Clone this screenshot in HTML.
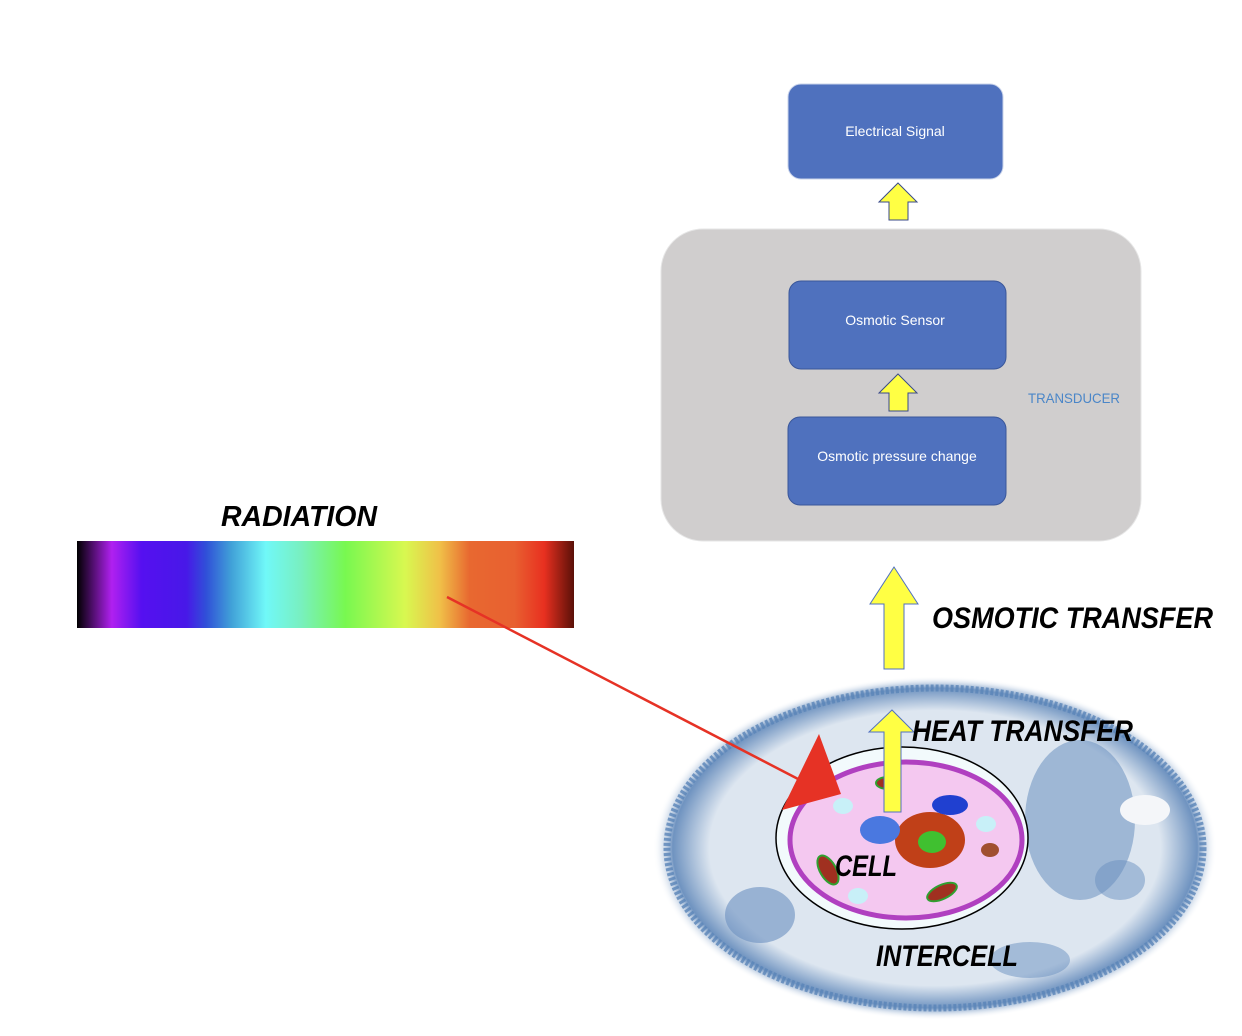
<!DOCTYPE html>
<html><head><meta charset="utf-8"><style>html,body{margin:0;padding:0;background:#fff}svg{display:block}</style></head>
<body>
<svg width="1242" height="1036" viewBox="0 0 1242 1036" xmlns="http://www.w3.org/2000/svg" font-family="Liberation Sans, sans-serif">
<defs>
<linearGradient id="sp" x1="0" x2="1" y1="0" y2="0">
<stop offset="0" stop-color="#000"/>
<stop offset="0.07" stop-color="#b020f0"/>
<stop offset="0.13" stop-color="#5510f0"/>
<stop offset="0.22" stop-color="#4818e8"/>
<stop offset="0.26" stop-color="#3050d8"/>
<stop offset="0.31" stop-color="#40a0d8"/>
<stop offset="0.38" stop-color="#70f8f8"/>
<stop offset="0.45" stop-color="#78f0c0"/>
<stop offset="0.54" stop-color="#78f850"/>
<stop offset="0.66" stop-color="#d8f850"/>
<stop offset="0.73" stop-color="#f0c048"/>
<stop offset="0.79" stop-color="#e86830"/>
<stop offset="0.88" stop-color="#e86030"/>
<stop offset="0.94" stop-color="#e83020"/>
<stop offset="1" stop-color="#5a1008"/>
</linearGradient>
<radialGradient id="bg" cx="0.5" cy="0.5" r="0.5">
<stop offset="0.8" stop-color="#dde6f0"/>
<stop offset="0.93" stop-color="#6f93c0"/>
<stop offset="1" stop-color="#ffffff" stop-opacity="0"/>
</radialGradient>
</defs>

<rect x="661" y="229" width="480" height="312" rx="42" fill="#d0cece" stroke="#e6e6e6"/>
<rect x="788" y="84" width="215" height="95" rx="13" fill="#4f71be" stroke="#c9d3ea"/>
<text x="895" y="136" font-size="14" fill="#fff" text-anchor="middle">Electrical Signal</text>
<rect x="789" y="281" width="217" height="88" rx="12" fill="#4f71be" stroke="#3a579a"/>
<text x="895" y="325" font-size="14" fill="#fff" text-anchor="middle">Osmotic Sensor</text>
<rect x="788" y="417" width="218" height="88" rx="12" fill="#4f71be" stroke="#3a579a"/>
<text x="897" y="461" font-size="14" fill="#fff" text-anchor="middle">Osmotic pressure change</text>
<text x="1028" y="403" font-size="14" fill="#4a86c8" textLength="92" lengthAdjust="spacingAndGlyphs">TRANSDUCER</text>
<polygon points="898,183 917,202 908,202 908,220 889,220 889,202 879,202" fill="#ffff44" stroke="#3a4a8a"/>
<polygon points="898,374 917,393 908,393 908,411 889,411 889,393 879,393" fill="#ffff44" stroke="#3a4a8a"/>
<polygon points="894,567 918,604 904,604 904,669 884,669 884,604 870,604" fill="#ffff44" stroke="#5070c0"/>

<rect x="77" y="541" width="497" height="87" fill="url(#sp)"/>
<text x="221" y="526" font-size="29" font-weight="bold" font-style="italic" textLength="156" lengthAdjust="spacingAndGlyphs">RADIATION</text>

<ellipse cx="935" cy="848" rx="282" ry="172" fill="url(#bg)"/>
<ellipse cx="935" cy="848" rx="268" ry="160" fill="none" stroke="#5a84b8" stroke-width="7" stroke-dasharray="3 2" opacity="0.8"/>
<ellipse cx="1080" cy="820" rx="55" ry="80" fill="#6a90c0" opacity="0.55"/>
<ellipse cx="760" cy="915" rx="35" ry="28" fill="#6a90c0" opacity="0.6"/>
<ellipse cx="1120" cy="880" rx="25" ry="20" fill="#6a90c0" opacity="0.5"/>
<ellipse cx="1030" cy="960" rx="40" ry="18" fill="#6a90c0" opacity="0.5"/>
<ellipse cx="1145" cy="810" rx="25" ry="15" fill="#f4f6f9"/>
<ellipse cx="902" cy="838" rx="126" ry="91" fill="#f2fafc" stroke="#000" stroke-width="1.5"/>
<ellipse cx="906" cy="840" rx="116" ry="78" fill="#f4c8f0" stroke="#b040c0" stroke-width="5"/>
<ellipse cx="930" cy="840" rx="35" ry="28" fill="#c04018"/>
<ellipse cx="932" cy="842" rx="14" ry="11" fill="#40c030"/>
<ellipse cx="880" cy="830" rx="20" ry="14" fill="#4a78e0"/>
<ellipse cx="950" cy="805" rx="18" ry="10" fill="#2040d0"/>
<ellipse cx="828" cy="870" rx="8" ry="16" transform="rotate(-30 828 870)" fill="#a03020" stroke="#30a030" stroke-width="2"/>
<ellipse cx="942" cy="892" rx="16" ry="7" transform="rotate(-25 942 892)" fill="#a03020" stroke="#30a030" stroke-width="2"/>
<ellipse cx="888" cy="783" rx="12" ry="6" fill="#a03020" stroke="#30a030" stroke-width="2"/>
<ellipse cx="990" cy="850" rx="9" ry="7" fill="#a05030"/>
<ellipse cx="843" cy="806" rx="10" ry="8" fill="#c8f0f8"/>
<ellipse cx="986" cy="824" rx="10" ry="8" fill="#c8f0f8"/>
<ellipse cx="858" cy="896" rx="10" ry="8" fill="#c8f0f8"/>

<polygon points="892,710 914,732 901,732 901,812 884,812 884,732 869,732" fill="#ffff44" stroke="#5070c0"/>

<line x1="447" y1="597" x2="800" y2="780" stroke="#e63225" stroke-width="2.5"/>
<polygon points="819,734 841,794 782,810" fill="#e63225"/>

<g font-weight="bold" font-style="italic" font-size="30" fill="#000">
<text x="932" y="628" textLength="281" lengthAdjust="spacingAndGlyphs">OSMOTIC TRANSFER</text>
<text x="912" y="741" textLength="221" lengthAdjust="spacingAndGlyphs">HEAT TRANSFER</text>
<text x="835" y="876" textLength="62" lengthAdjust="spacingAndGlyphs">CELL</text>
<text x="876" y="966" textLength="142" lengthAdjust="spacingAndGlyphs">INTERCELL</text>
</g>
</svg>
</body></html>
